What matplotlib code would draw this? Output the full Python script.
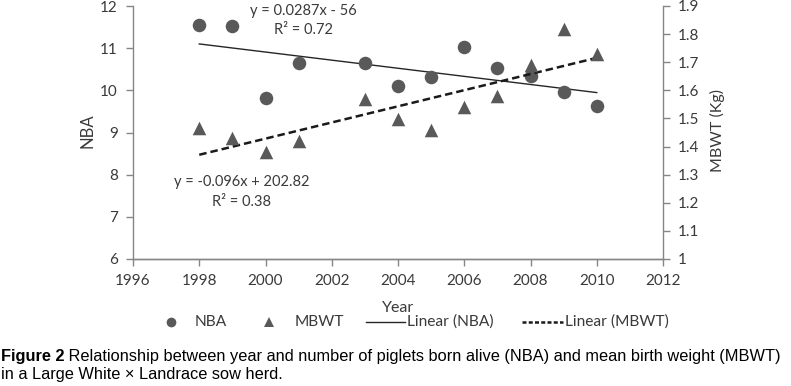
import numpy as np
import matplotlib
matplotlib.use("Agg")
import matplotlib.pyplot as plt
from matplotlib.lines import Line2D

years = [1998, 1999, 2000, 2001, 2003, 2004, 2005, 2006, 2007, 2008, 2009, 2010]
nba = [11.55, 11.53, 9.83, 10.65, 10.65, 10.10, 10.31, 11.02, 10.54, 10.34, 9.95, 9.62]
mbwt = [1.467, 1.429, 1.380, 1.419, 1.568, 1.499, 1.459, 1.540, 1.579, 1.689, 1.817, 1.729]
x_ticks = [1996, 1998, 2000, 2002, 2004, 2006, 2008, 2010, 2012]
nba_ticks = [6, 7, 8, 9, 10, 11, 12]
mbwt_ticks = [1, 1.1, 1.2, 1.3, 1.4, 1.5, 1.6, 1.7, 1.8, 1.9]
eq_nba = ["y = 0.0287x - 56", "R\u00b2 = 0.72"]
eq_mbwt = ["y = -0.096x + 202.82", "R\u00b2 = 0.38"]
caption_bold = "Figure 2"
caption_rest = " Relationship between year and number of piglets born alive (NBA) and mean birth weight (MBWT)"
caption_line2 = "in a Large White \u00d7 Landrace sow herd."

W, H = 791, 386
fig = plt.figure(figsize=(W / 100, H / 100), dpi=100)
plt.rcParams['font.family'] = ['Lato', 'DejaVu Sans']

def fx(px):
    return px / W

def fy(py):
    return 1 - py / H

x0, x1, yt, yb = 133, 663, 6, 259
ax = fig.add_axes([fx(x0), fy(yb), (x1 - x0) / W, (yb - yt) / H])
ax2 = ax.twinx()

mcol = '#595959'
spine_col = '#868686'
txt_col = '#3a3a3a'

ax.scatter(years, nba, marker='o', s=95, color=mcol, zorder=3, linewidths=0)
ax2.scatter(years, mbwt, marker='^', s=95, color=mcol, zorder=3, linewidths=0)

yr = np.array(years, dtype=float)
p1 = np.polyfit(yr, nba, 1)
p2 = np.polyfit(yr, mbwt, 1)
xl = np.array([yr.min(), yr.max()])
ax.plot(xl, np.polyval(p1, xl), color='#262626', lw=1.0, zorder=2)
ax2.plot(xl, np.polyval(p2, xl), color='#1a1a1a', lw=1.8, ls=(0, (3.0, 1.6)), zorder=2)

ax.set_xlim(1996, 2012)
ax.set_ylim(6, 12)
ax2.set_ylim(1, 1.9)
ax.set_xticks(x_ticks)
ax.set_yticks(nba_ticks)
ax2.set_yticks(mbwt_ticks)
ax2.set_yticklabels([f"{v:g}" for v in mbwt_ticks])

for a in (ax, ax2):
    a.spines['top'].set_visible(False)
    for s in ('left', 'right', 'bottom'):
        a.spines[s].set_color(spine_col)
        a.spines[s].set_linewidth(1.0)
    a.tick_params(colors=spine_col, labelcolor=txt_col, labelsize=11, length=5, width=1.0, direction='out')
    a.set_facecolor('none')
ax.spines['right'].set_visible(False)
ax2.spines['left'].set_visible(False)
ax.tick_params(axis='x', pad=6)
ax.tick_params(axis='y', pad=6)
ax2.tick_params(axis='y', pad=6)

fig.text(fx(87), fy(131), "NBA", rotation=90, ha='center', va='center', fontsize=12, color=txt_col)
fig.text(fx(717), fy(131), "MBWT (Kg)", rotation=90, ha='center', va='center', fontsize=11.5, color=txt_col)
fig.text(fx(398), fy(308), "Year", ha='center', va='center', fontsize=11.5, color=txt_col)

fig.text(fx(303), fy(11), eq_nba[0], ha='center', va='center', fontsize=10.5, color=txt_col)
fig.text(fx(303), fy(30), eq_nba[1], ha='center', va='center', fontsize=10.5, color=txt_col)
fig.text(fx(242), fy(182), eq_mbwt[0], ha='center', va='center', fontsize=10.5, color=txt_col)
fig.text(fx(242), fy(202), eq_mbwt[1], ha='center', va='center', fontsize=10.5, color=txt_col)

# legend
ly = fy(322)
lfs = 11.2
fig.add_artist(Line2D([fx(171)], [ly], marker='o', ms=7, color=mcol, mew=0, transform=fig.transFigure))
fig.text(fx(195), ly, "NBA", ha='left', va='center', fontsize=lfs, color=txt_col)
fig.add_artist(Line2D([fx(269)], [ly], marker='^', ms=7, color=mcol, mew=0, transform=fig.transFigure))
fig.text(fx(295), ly, "MBWT", ha='left', va='center', fontsize=lfs, color=txt_col)
fig.add_artist(Line2D([fx(366), fx(405)], [ly, ly], color='#262626', lw=1.0, transform=fig.transFigure))
fig.text(fx(407), ly, "Linear (NBA)", ha='left', va='center', fontsize=lfs, color=txt_col)
fig.add_artist(Line2D([fx(522), fx(563)], [ly, ly], color='#1a1a1a', lw=1.8, ls=(0, (1.6, 0.9)), transform=fig.transFigure))
fig.text(fx(565), ly, "Linear (MBWT)", ha='left', va='center', fontsize=lfs, color=txt_col)

# caption
cfs = 11.75
t = fig.text(fx(1), fy(356), caption_bold, ha='left', va='center', fontsize=cfs, fontweight='bold',
             family=['Liberation Sans', 'DejaVu Sans'], color='black')
fig.canvas.draw()
bb = t.get_window_extent()
fig.text(bb.x1 / W, fy(356), caption_rest, ha='left', va='center', fontsize=cfs,
         family=['Liberation Sans', 'DejaVu Sans'], color='black')
fig.text(fx(1), fy(374), caption_line2, ha='left', va='center', fontsize=cfs,
         family=['Liberation Sans', 'DejaVu Sans'], color='black')

fig.savefig("out.png", dpi=100)
